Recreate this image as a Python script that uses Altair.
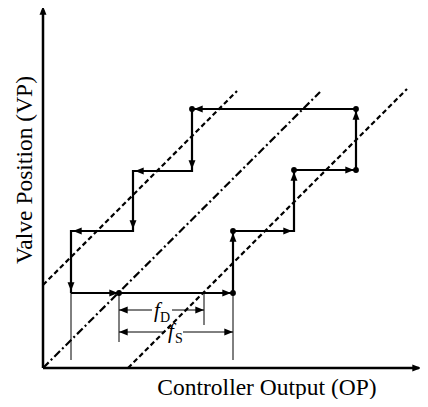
import altair as alt
import pandas as pd

# ---- data (units laid out on a square grid: 1 unit per pixel) ----
# stiction limit-cycle path (valve position vs controller output)
path_x = [28, 190, 190, 251, 251, 313, 313, 149, 149, 90, 90, 28, 28]
path_y = [75, 75, 137, 137, 198, 198, 259, 259, 197, 197, 137, 137, 75]

# corner dots
dot_x = [76, 190, 190, 251, 313, 313, 149]
dot_y = [75, 75, 137, 198, 198, 259, 259]

# arrowheads on the path (tip position, direction in degrees clockwise from up)
arr_x = [75, 188, 190, 249, 251, 311, 313, 151, 149, 92, 90, 30, 28,
         76, 161, 76, 190, 0, 378]
arr_y = [75, 75, 135, 137, 196, 198, 257, 259, 199, 197, 139, 137, 77,
         58, 58, 36, 36, 362, 0]
arr_dir = [90, 90, 0, 90, 0, 90, 0, 270, 180, 270, 180, 270, 180,
           270, 90, 270, 90, 0, 90]

# reference lines (slope 1): upper dashed, middle dash-dot, lower dashed
dash_x1 = [0, 85]
dash_y1 = [83, 0]
dash_x2 = [194, 364]
dash_y2 = [277, 279]
dd_x1, dd_y1, dd_x2, dd_y2 = [0], [0], [277], [276]

# thin extension lines and dimension lines
ext_x1 = [28, 76, 161, 190, 76, 129, 76, 140]
ext_y1 = [8, 26, 43, 8, 58, 58, 36, 36]
ext_x2 = [28, 76, 161, 190, 109, 161, 122, 190]
ext_y2 = [75, 75, 75, 75, 58, 58, 36, 36]

# axes
ax_x1 = [0, 0]
ax_y1 = [0, 0]
ax_x2 = [0, 376]
ax_y2 = [358, 0]

X_DOM = [0, 377]
Y_DOM = [0, 360]

xs = alt.Scale(domain=X_DOM)
ys = alt.Scale(domain=Y_DOM)

def seg_layer(x1, y1, x2, y2, width, dash=None):
    df = pd.DataFrame({"x": x1, "y": y1, "x2": x2, "y2": y2})
    kw = dict(color="black", strokeWidth=width)
    if dash:
        kw["strokeDash"] = dash
    return alt.Chart(df).mark_rule(**kw).encode(
        x=alt.X("x:Q", scale=xs, axis=None),
        y=alt.Y("y:Q", scale=ys, axis=None),
        x2="x2:Q", y2="y2:Q")

path_df = pd.DataFrame({"x": path_x, "y": path_y, "i": list(range(len(path_x)))})
path = alt.Chart(path_df).mark_line(color="black", strokeWidth=2.2, strokeJoin="miter").encode(
    x=alt.X("x:Q", scale=xs, axis=None),
    y=alt.Y("y:Q", scale=ys, axis=None),
    order="i:Q")

dots = alt.Chart(pd.DataFrame({"x": dot_x, "y": dot_y})).mark_circle(
    color="black", size=34, opacity=1).encode(
    x=alt.X("x:Q", scale=xs, axis=None),
    y=alt.Y("y:Q", scale=ys, axis=None))

arrows = alt.Chart(pd.DataFrame({"x": arr_x, "y": arr_y, "a": arr_dir})).mark_point(
    shape="M0,0L0.4,1L-0.4,1Z", filled=True, color="black", opacity=1, size=300,
    strokeWidth=0).encode(
    x=alt.X("x:Q", scale=xs, axis=None),
    y=alt.Y("y:Q", scale=ys, axis=None),
    angle=alt.Angle("a:Q", scale=None))

dashed = seg_layer(dash_x1, dash_y1, dash_x2, dash_y2, 2.2, [5, 3])
dashdot = seg_layer(dd_x1, dd_y1, dd_x2, dd_y2, 2.2, [8, 3, 2, 3])
ext = seg_layer(ext_x1, ext_y1, ext_x2, ext_y2, 1)
axes = seg_layer(ax_x1, ax_y1, ax_x2, ax_y2, 2.5)

# labels
lab_df = pd.DataFrame({
    "x": [224, -18],
    "y": [-20, 198],
    "t": ["Controller Output (OP)", "Valve Position (VP)"],
    "a": [0, 270]})
labels = alt.Chart(lab_df).mark_text(
    font="Liberation Serif", fontSize=23.5, color="black").encode(
    x=alt.X("x:Q", scale=xs, axis=None),
    y=alt.Y("y:Q", scale=ys, axis=None),
    text="t:N", angle=alt.Angle("a:Q", scale=None))

f_df = pd.DataFrame({"x": [114, 128], "y": [57, 36], "t": ["f", "f"]})
f_lab = alt.Chart(f_df).mark_text(
    font="Liberation Serif", fontSize=21, fontStyle="italic", color="black").encode(
    x=alt.X("x:Q", scale=xs, axis=None),
    y=alt.Y("y:Q", scale=ys, axis=None), text="t:N")
sub_df = pd.DataFrame({"x": [122, 136], "y": [50, 29], "t": ["D", "S"]})
sub_lab = alt.Chart(sub_df).mark_text(
    font="Liberation Serif", fontSize=14, color="black").encode(
    x=alt.X("x:Q", scale=xs, axis=None),
    y=alt.Y("y:Q", scale=ys, axis=None), text="t:N")

chart = alt.layer(
    dashed, dashdot, ext, axes, path, arrows, dots, labels, f_lab, sub_lab
).properties(
    width=377, height=360,
    autosize=alt.AutoSizeParams(type="none"),
    padding={"left": 35, "top": 0, "right": 0, "bottom": 31},
).configure_view(stroke=None)

chart.save("out.html", embed_options={"renderer": "svg", "actions": False})
